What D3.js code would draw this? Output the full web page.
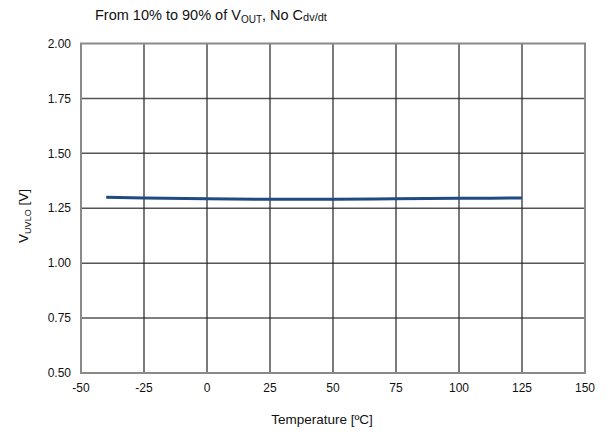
<!DOCTYPE html>
<html>
<head>
<meta charset="utf-8">
<title>VUVLO vs Temperature</title>
<style>
  body { margin: 0; background: #fff; }
  text { font-family: 'Liberation Sans', Arial, sans-serif; font-size: 12px; fill: #111; }
  .ttl { font-size: 13.5px; }
  .top { font-size: 14.5px; }
</style>
</head>
<body>
<script src="https://d3js.org/d3.v7.min.js"></script>
<script>
var width = 607, height = 438;
var margin = {top: 43.5, right: 22, bottom: 65, left: 81};

// data
var temps = [-40, -25, 0, 25, 50, 75, 100, 125];
var vuvlo = [1.300, 1.297, 1.293, 1.291, 1.291, 1.293, 1.295, 1.297];
var xTicks = [-50, -25, 0, 25, 50, 75, 100, 125, 150];
var yTicks = [0.50, 0.75, 1.00, 1.25, 1.50, 1.75, 2.00];

var svg = d3.select("body").append("svg")
    .attr("width", width)
    .attr("height", height);

var x = d3.scaleLinear().domain([-50, 150]).range([margin.left, width - margin.right]);
var y = d3.scaleLinear().domain([0.5, 2.0]).range([height - margin.bottom, margin.top]);

// horizontal grid
svg.append("g").selectAll("line")
    .data(yTicks.slice(1, -1)).enter().append("line")
    .attr("x1", x(-50)).attr("x2", x(150))
    .attr("y1", function(d) { return y(d); })
    .attr("y2", function(d) { return y(d); })
    .attr("stroke", "#555").attr("stroke-width", 1.5);

// vertical grid
svg.append("g").selectAll("line")
    .data(xTicks.slice(1, -1)).enter().append("line")
    .attr("x1", function(d) { return x(d); })
    .attr("x2", function(d) { return x(d); })
    .attr("y1", y(2.0)).attr("y2", y(0.5))
    .attr("stroke", "#222").attr("stroke-width", 1.2);

// frame
svg.append("rect")
    .attr("x", x(-50)).attr("y", y(2.0))
    .attr("width", x(150) - x(-50)).attr("height", y(0.5) - y(2.0))
    .attr("fill", "none").attr("stroke", "#8a8a8a").attr("stroke-width", 2);

// y tick labels
svg.append("g").selectAll("text")
    .data(yTicks).enter().append("text")
    .attr("x", x(-50) - 10)
    .attr("y", function(d) { return y(d); })
    .attr("dy", "0.35em")
    .attr("text-anchor", "end")
    .text(function(d) { return d3.format(".2f")(d); });

// x tick labels
svg.append("g").selectAll("text")
    .data(xTicks).enter().append("text")
    .attr("x", function(d) { return x(d); })
    .attr("y", y(0.5) + 19)
    .attr("text-anchor", "middle")
    .text(function(d) { return d; });

// series
var line = d3.line()
    .x(function(d, i) { return x(temps[i]); })
    .y(function(d) { return y(d); })
    .curve(d3.curveMonotoneX);

svg.append("path")
    .datum(vuvlo)
    .attr("d", line)
    .attr("fill", "none")
    .attr("stroke", "#1f4b82")
    .attr("stroke-width", 3);

// title
var title = svg.append("text").attr("class", "top").attr("x", 95).attr("y", 20);
title.append("tspan").text("From 10% to 90% of V");
title.append("tspan").attr("font-size", "10px").attr("dy", 3).text("OUT");
title.append("tspan").attr("dy", -3).text(", No C");
title.append("tspan").attr("font-size", "11px").attr("dy", 1).text("dv/dt");

// axis titles
svg.append("text")
    .attr("class", "ttl")
    .attr("x", 322)
    .attr("y", 424)
    .attr("text-anchor", "middle")
    .text("Temperature [ºC]");

var yl = svg.append("text")
    .attr("class", "ttl")
    .attr("transform", "translate(28,216) rotate(-90)")
    .attr("text-anchor", "middle");
yl.append("tspan").text("V");
yl.append("tspan").attr("font-size", "9px").attr("dy", 3).text("UVLO");
yl.append("tspan").attr("dy", -3).text(" [V]");
</script>
</body>
</html>
